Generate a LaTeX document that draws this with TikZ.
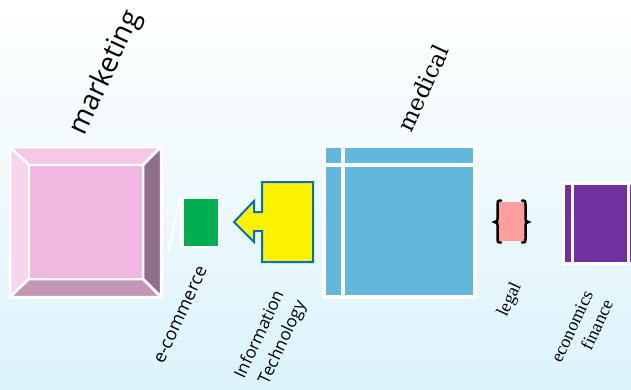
\documentclass[tikz,border=0pt]{standalone}
\usepackage{fontspec}
\setmainfont{Liberation Serif}
\newfontfamily\sansf{Open Sans}
\newfontfamily\medf{DejaVu Serif}
\definecolor{bgbot}{RGB}{220,243,251}
\definecolor{mtop}{RGB}{245,200,232}
\definecolor{mleft}{RGB}{248,213,236}
\definecolor{mright}{RGB}{144,112,136}
\definecolor{mbot}{RGB}{196,150,182}
\definecolor{mmid}{RGB}{242,184,226}
\definecolor{ecgreen}{RGB}{0,176,80}
\definecolor{itblue}{RGB}{0,112,192}
\definecolor{medblue}{RGB}{98,184,220}
\definecolor{legpink}{RGB}{255,158,158}
\definecolor{ecopurple}{RGB}{112,48,160}
\tikzset{
  bevel/.style={draw=white, line width=2.5pt, line join=round},
  lbl/.style={inner sep=0pt, rotate=65, text=black},
}
\begin{document}
\begin{tikzpicture}[x=1pt,y=-1pt]
\useasboundingbox (0,0) rectangle (631,389);
\shade[top color=white, bottom color=bgbot] (0,0) rectangle (631,389);

% marketing bevel
\fill[white] (8.5,145.5) rectangle (162.5,298.5);
\filldraw[bevel, fill=mtop] (10,147) -- (161,147) -- (143,165) -- (29,165) -- cycle;
\filldraw[bevel, fill=mleft] (10,147) -- (29,165) -- (29,279) -- (10,297) -- cycle;
\filldraw[bevel, fill=mright] (161,147) -- (161,297) -- (143,279) -- (143,165) -- cycle;
\filldraw[bevel, fill=mbot] (10,297) -- (29,279) -- (143,279) -- (161,297) -- cycle;
\filldraw[bevel, fill=mmid] (29,165) rectangle (143,279);

% e-commerce
\fill[white] (179.5,196.5) rectangle (220,248);
\fill[ecgreen] (183.5,199) rectangle (218,246);
\draw[white, line width=2pt] (168,252) -- (180,198);

% information technology arrow
\draw[fill=yellow, draw=itblue, line width=2pt, line join=miter]
  (313,182) -- (262,182) -- (262,212) -- (254,212) -- (254,201) -- (234,222)
  -- (254,242) -- (254,231) -- (262,231) -- (262,262) -- (313,262) -- cycle;

% medical
\fill[white] (322,145) rectangle (477,299);
\fill[medblue] (326,148) rectangle (341,163);
\fill[medblue] (345,148) rectangle (473,163);
\fill[medblue] (326,167) rectangle (341,295);
\fill[medblue] (345,167) rectangle (473,295);

% legal
\fill[legpink] (497,202) rectangle (526,241);
\draw[black, line width=2.5pt, line cap=round]
  (501,200.5) .. controls (497.5,200.5) and (497.5,201.5) .. (497.5,204.5) -- (497.5,219)
  .. controls (497.5,221) .. (494.5,222) .. controls (497.5,223) .. (497.5,225)
  -- (497.5,239) .. controls (497.5,242) and (497.5,242.5) .. (501,242.5);
\draw[black, line width=2.5pt, line cap=round]
  (522,200.5) .. controls (525.5,200.5) and (525.5,201.5) .. (525.5,204.5) -- (525.5,219)
  .. controls (525.5,221) .. (528.5,222) .. controls (525.5,223) .. (525.5,225)
  -- (525.5,239) .. controls (525.5,242) and (525.5,242.5) .. (522,242.5);

% economics finance
\fill[white] (562,182) rectangle (640,265);
\fill[ecopurple] (565,184.5) rectangle (571,262);
\fill[ecopurple] (574,184.5) rectangle (627,262);
\fill[ecopurple] (630,184.5) rectangle (640,262);

% labels
\node[lbl, font=\sansf\fontsize{28}{33}\selectfont] (mkt) at (106,73) {marketing};
\node[lbl, font=\medf\fontsize{23}{27}\selectfont] (med) at (423,88) {medical};
\node[lbl, font=\sansf\fontsize{18}{22}\selectfont] (ecom) at (181,315) {e-commerce};
\node[lbl, align=right, font=\sansf\fontsize{17}{24}\selectfont] (it) at (271,340) {Information\\Technology};
\node[lbl, font=\fontsize{18}{21}\selectfont] (leg) at (510,300) {legal};
\node[lbl, align=right, font=\fontsize{18}{22}\selectfont] (eco) at (582,331) {economics\\finance};
\end{tikzpicture}
\end{document}
